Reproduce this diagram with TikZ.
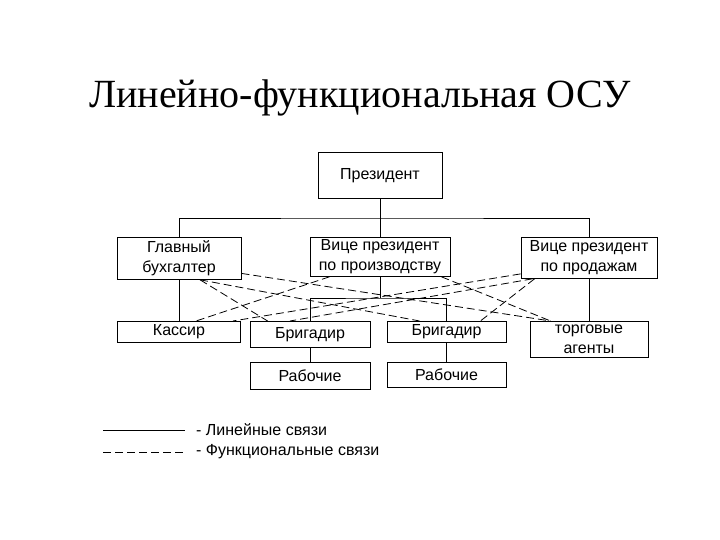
\documentclass[tikz,border=0pt]{standalone}
\usepackage{fontspec}
\setmainfont{Liberation Serif}
\newfontfamily\arialfont{Liberation Sans}
\usetikzlibrary{positioning,calc}
\tikzset{
box/.style={
draw,
line width=0.8pt,
inner sep=0pt,
align=center,
anchor=north,
font=\arialfont\fontsize{16}{19.5}\selectfont
},
legendtext/.style={
anchor=west,
inner sep=0pt,
font=\arialfont\fontsize{16}{19}\selectfont
},
lin/.style={
line width=0.8pt
},
func/.style={
line width=0.8pt,
dash pattern=on 8pt off 4pt
}
}

\begin{document}
\begin{tikzpicture}[x=1pt,y=1pt]
\useasboundingbox (0,0) rectangle (720,540);
\node[font=\fontsize{40}{48}\selectfont](title) at (360,442){Линейно-функциональная ОСУ};

\node[box,minimum width=124pt,minimum height=46pt](pres) at (380,388){Президент};
\node[box,minimum width=124pt,minimum height=42pt](gb) at (179,303){Главный\\бухгалтер};
\node[box,minimum width=140pt,minimum height=39pt](vpp) at (380,303){Вице президент\\по производству};
\node[box,minimum width=136pt,minimum height=41pt](vps) at (589,303){Вице президент\\по продажам};
\node[box,minimum width=123pt,minimum height=21pt](kas) at (179,219){Кассир};
\node[box,minimum width=120pt,minimum height=26pt](br1) at (310,219){Бригадир};
\node[box,minimum width=119pt,minimum height=21pt](br2) at (446.5,219){Бригадир};
\node[box,minimum width=118pt,minimum height=36pt](ta) at (589,219){торговые\\агенты};
\node[box,minimum width=120pt,minimum height=27pt](rab1) at (310,178){Рабочие};
\node[box,minimum width=119pt,minimum height=25pt](rab2) at (446.5,178){Рабочие};

\coordinate(bar) at (380,322);
\coordinate(brg) at (380,242);
\draw[lin](pres.south)--(bar);
\draw[lin](gb.north)|-(bar)-|(vps.north);
\draw[lin](bar)--(vpp.north);
\draw[lin](gb.south)--(kas.north);
\draw[lin](vps.south)--(ta.north);
\draw[lin](vpp.south)--(brg);
\draw[lin](br1.north)|-(brg)-|(br2.north);
\draw[lin](br1.south)--(rab1.north);
\draw[lin](br2.south)--(rab2.north);

\draw[func]([yshift=-15pt]gb.east)--([xshift=21pt]ta.north west);
\draw[func]([xshift=21pt]gb.south)--([xshift=18pt]br1.north west);
\draw[func]([xshift=21pt]gb.south)--([xshift=33pt]br2.north west);
\draw[func]([xshift=20pt]vpp.south west)--([xshift=17pt]kas.north);
\draw[func]([xshift=-9pt]vpp.south east)--([xshift=21pt]ta.north west);
\draw[func]([xshift=14pt]vps.south west)--([xshift=-26pt]br2.north east);
\draw[func]([yshift=-16pt]vps.west)--([xshift=-8pt]kas.north east);
\draw[func]([xshift=12pt]vps.south west)--([xshift=-20pt]br1.north);

\node[legendtext](lk) at (196,110){- Линейные связи};
\node[legendtext](fk) at (196,88){- Функциональные связи};
\coordinate(l1) at (103,110);
\coordinate(l2) at (103,88);
\draw[lin](l1)--([xshift=-11pt]lk.west);
\draw[func](l2)--([xshift=-13pt]fk.west);
\end{tikzpicture}
\end{document}
